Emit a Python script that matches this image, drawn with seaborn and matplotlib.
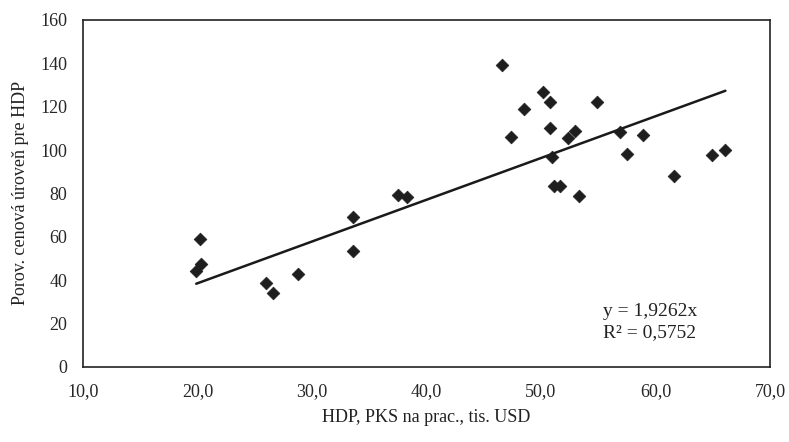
import matplotlib
matplotlib.use("Agg")
import matplotlib.pyplot as plt
import seaborn as sns
import numpy as np
import pandas as pd

# Data
hdp = [20.2, 20.3, 19.9, 26.0, 26.6, 28.8, 33.6, 33.6, 37.5, 38.3,
       46.6, 50.2, 50.8, 48.5, 54.9, 47.4, 50.8, 53.0, 52.4, 56.9,
       58.9, 51.0, 57.5, 51.1, 51.7, 53.3, 61.6, 64.9, 66.1]
ceny = [59.0, 47.3, 44.4, 38.9, 34.0, 42.9, 69.3, 53.6, 79.2, 78.1,
        139.2, 126.9, 122.3, 118.8, 122.3, 106.2, 110.3, 108.8, 105.4, 108.5,
        107.0, 96.7, 98.1, 83.6, 83.6, 78.8, 88.2, 97.7, 100.0]
slope = 1.9262
r2 = 0.5752
x_ticks = [10, 20, 30, 40, 50, 60, 70]
y_ticks = [0, 20, 40, 60, 80, 100, 120, 140, 160]

df = pd.DataFrame({"x": hdp, "y": ceny})

sns.set_theme(style="white")
plt.rcParams['font.family'] = ['Liberation Serif', 'DejaVu Serif']

fig = plt.figure(figsize=(7.89, 4.42), dpi=100)
ax = fig.add_axes([0.105, 0.170, 0.871, 0.785])

sns.scatterplot(data=df, x="x", y="y", marker="D", s=42, color="#1e1e1e",
                edgecolor="#1e1e1e", linewidth=0.5, ax=ax, zorder=3)

xl = np.array([min(hdp), max(hdp)])
ax.plot(xl, slope * xl, color="#1a1a1a", linewidth=1.8, zorder=2)

ax.set_xlim(10, 70)
ax.set_ylim(0, 160)
ax.set_xticks(x_ticks)
ax.set_yticks(y_ticks)
ax.set_xticklabels([f"{v:.1f}".replace(".", ",") for v in x_ticks], fontsize=13)
ax.set_yticklabels([str(v) for v in y_ticks], fontsize=13)
ax.tick_params(axis="both", length=3, width=0.8, color="#333333", pad=8)
ax.tick_params(axis="x", direction="in", pad=12)

for sp in ax.spines.values():
    sp.set_color("#222222")
    sp.set_linewidth(1.2)

ax.set_xlabel("HDP, PKS na prac., tis. USD", fontsize=13, labelpad=6, color="#222222")
ax.set_ylabel("Porov. cenová úroveň pre HDP", fontsize=13, labelpad=8, color="#222222")

ax.text(0.757, 0.075, f"y = {str(slope).replace('.', ',')}x\nR² = {str(r2).replace('.', ',')}",
        transform=ax.transAxes, fontsize=14, ha="left", va="bottom",
        linespacing=1.3, color="#222222")

fig.savefig("out.png", dpi=100, facecolor="white")
